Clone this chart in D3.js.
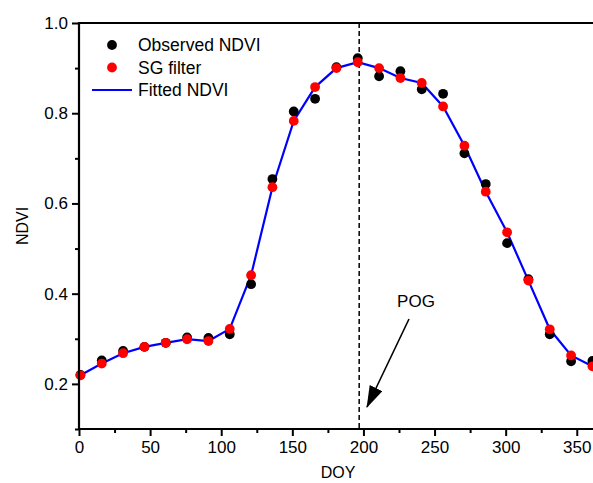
<!DOCTYPE html>
<html>
<head>
<meta charset="utf-8">
<script src="https://cdn.jsdelivr.net/npm/d3@7"></script>
<style>
  html, body { margin: 0; padding: 0; background: #fff; }
  svg text { font-family: "Liberation Sans", Arial, sans-serif; fill: #000; }
</style>
</head>
<body>
<div id="chart"></div>
<script>
// day of year for each composite
var doy = [1, 16, 31, 46, 61, 76, 91, 106, 121, 136, 151, 166, 181, 196, 211, 226, 241, 256, 271, 286, 301, 316, 331, 346, 361];

// observed NDVI (black dots)
var observedNdvi = [0.22, 0.252, 0.273, 0.282, 0.291, 0.303, 0.302, 0.310, 0.421, 0.654, 0.804, 0.832, 0.902, 0.922, 0.882, 0.893, 0.853, 0.843, 0.711, 0.643, 0.512, 0.432, 0.310, 0.250, 0.251];

// SG filter (red dots)
var sgFilter = [0.219, 0.245, 0.268, 0.282, 0.291, 0.299, 0.295, 0.322, 0.441, 0.636, 0.783, 0.858, 0.900, 0.913, 0.900, 0.878, 0.867, 0.815, 0.728, 0.626, 0.536, 0.429, 0.321, 0.263, 0.239];

// fitted NDVI (blue line)
var fittedNdvi = [0.219, 0.245, 0.268, 0.282, 0.291, 0.299, 0.295, 0.322, 0.441, 0.636, 0.783, 0.858, 0.900, 0.913, 0.900, 0.878, 0.867, 0.815, 0.728, 0.626, 0.536, 0.429, 0.321, 0.263, 0.239];

var xMajorTicks = [0, 50, 100, 150, 200, 250, 300, 350];
var xMinorTicks = [25, 75, 125, 175, 225, 275, 325];
var yMajorTicks = [0.2, 0.4, 0.6, 0.8, 1.0];
var yMinorTicks = [0.1, 0.3, 0.5, 0.7, 0.9];

var pogDoy = 197;
var legendItems = ['Observed NDVI', 'SG filter', 'Fitted NDVI'];

function drawChart() {
    var width = 593, height = 483;
    var plotLeft = 79, plotRight = 591, plotTop = 23, plotBottom = 429;
    var dotR = 4.9;

    var svg = d3.select('#chart').append('svg')
        .attr('width', width)
        .attr('height', height);

    var x = d3.scaleLinear().domain([0, 360]).range([plotLeft, plotRight]);
    var y = d3.scaleLinear().domain([0.1, 1.0]).range([plotBottom, plotTop]);

    // dashed POG line
    svg.append('line')
        .attr('x1', x(pogDoy)).attr('x2', x(pogDoy))
        .attr('y1', plotTop).attr('y2', plotBottom)
        .attr('stroke', '#000')
        .attr('stroke-width', 1.5)
        .attr('stroke-dasharray', '5,3');

    // fitted line
    var line = d3.line()
        .x(function(d, i) { return x(doy[i]); })
        .y(function(d) { return y(d); });

    svg.append('path')
        .datum(fittedNdvi)
        .attr('d', line)
        .attr('fill', 'none')
        .attr('stroke', '#0000ff')
        .attr('stroke-width', 2.2);

    // observed points
    svg.append('g').selectAll('circle')
        .data(observedNdvi)
        .enter()
        .append('circle')
        .attr('cx', function(d, i) { return x(doy[i]); })
        .attr('cy', function(d) { return y(d); })
        .attr('r', dotR)
        .attr('fill', '#000');

    // SG filter points
    svg.append('g').selectAll('circle')
        .data(sgFilter)
        .enter()
        .append('circle')
        .attr('cx', function(d, i) { return x(doy[i]); })
        .attr('cy', function(d) { return y(d); })
        .attr('r', dotR)
        .attr('fill', '#ff0000');

    // axes
    svg.append('g').attr('transform', 'translate(0,' + plotBottom + ')')
        .call(d3.axisBottom(x).tickValues(xMajorTicks).tickSize(7).tickPadding(5).tickFormat(d3.format('d')));
    svg.append('g').attr('transform', 'translate(0,' + plotBottom + ')')
        .call(d3.axisBottom(x).tickValues(xMinorTicks).tickSize(4).tickFormat(''));

    svg.append('g').attr('transform', 'translate(' + plotLeft + ',0)')
        .call(d3.axisLeft(y).tickValues(yMajorTicks).tickSize(7).tickPadding(4).tickFormat(d3.format('.1f')));
    svg.append('g').attr('transform', 'translate(' + plotLeft + ',0)')
        .call(d3.axisLeft(y).tickValues(yMinorTicks).tickSize(4).tickFormat(''));

    svg.selectAll('.domain').remove();
    svg.selectAll('.tick line').attr('stroke', '#000').attr('stroke-width', 2);
    svg.selectAll('.tick text').attr('font-size', '17px').attr('fill', '#000')
        .style('font-family', '"Liberation Sans", Arial, sans-serif');

    // axis lines
    svg.append('line').attr('x1', plotLeft - 1).attr('x2', width).attr('y1', plotBottom).attr('y2', plotBottom)
        .attr('stroke', '#000').attr('stroke-width', 2.2);
    svg.append('line').attr('x1', plotLeft).attr('x2', plotLeft).attr('y1', plotTop - 1).attr('y2', plotBottom + 1)
        .attr('stroke', '#000').attr('stroke-width', 2.2);
    svg.append('line').attr('x1', plotLeft - 1).attr('x2', width).attr('y1', plotTop).attr('y2', plotTop)
        .attr('stroke', '#000').attr('stroke-width', 2.2);

    // axis titles
    svg.append('text')
        .attr('x', (plotLeft + width) / 2 + 2)
        .attr('y', 478)
        .attr('text-anchor', 'middle')
        .attr('font-size', '16px')
        .text('DOY');

    svg.append('text')
        .attr('transform', 'translate(28,' + ((plotTop + plotBottom) / 2) + ') rotate(-90)')
        .attr('text-anchor', 'middle')
        .attr('font-size', '16px')
        .text('NDVI');

    // POG annotation
    svg.append('defs').append('marker')
        .attr('id', 'arrow')
        .attr('viewBox', '0 0 22 14')
        .attr('refX', 21).attr('refY', 7)
        .attr('markerWidth', 22).attr('markerHeight', 14)
        .attr('markerUnits', 'userSpaceOnUse')
        .attr('orient', 'auto')
        .append('path')
        .attr('d', 'M0,0 L22,7 L0,14 Z')
        .attr('fill', '#000');

    svg.append('line')
        .attr('x1', 409).attr('y1', 319)
        .attr('x2', 367).attr('y2', 407)
        .attr('stroke', '#000')
        .attr('stroke-width', 1.6)
        .attr('marker-end', 'url(#arrow)');

    svg.append('text')
        .attr('x', 416)
        .attr('y', 307)
        .attr('text-anchor', 'middle')
        .attr('font-size', '17px')
        .text('POG');

    // legend
    var legend = svg.append('g');
    var rowY = [45, 67.5, 90];
    legend.append('circle').attr('cx', 112).attr('cy', rowY[0]).attr('r', dotR).attr('fill', '#000');
    legend.append('circle').attr('cx', 112).attr('cy', rowY[1]).attr('r', dotR).attr('fill', '#ff0000');
    legend.append('line').attr('x1', 92).attr('x2', 132).attr('y1', rowY[2]).attr('y2', rowY[2])
        .attr('stroke', '#0000ff').attr('stroke-width', 2.2);

    legend.selectAll('text')
        .data(legendItems)
        .enter()
        .append('text')
        .attr('x', 138)
        .attr('y', function(d, i) { return rowY[i]; })
        .attr('dy', '0.36em')
        .attr('font-size', '17.5px')
        .text(function(d) { return d; });
}

drawChart();
</script>
</body>
</html>
